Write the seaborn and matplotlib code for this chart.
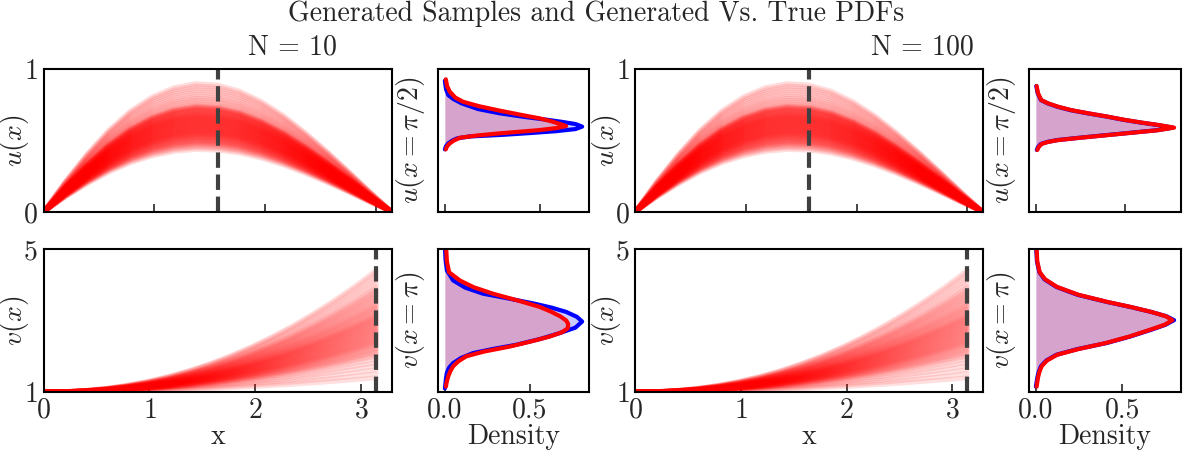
import numpy as np
import pandas as pd
import matplotlib
matplotlib.use("Agg")
import matplotlib.pyplot as plt
import seaborn as sns

# ---------------- data ----------------
x_grid = [0.0, 0.196, 0.393, 0.589, 0.785, 0.982, 1.178, 1.374, 1.571,
          1.767, 1.963, 2.160, 2.356, 2.553, 2.749, 2.945, 3.1416]
# typical sample shape of u(x) and of v(x) - 1
u_shape = [0.0, 0.144, 0.274, 0.387, 0.478, 0.545, 0.588, 0.607, 0.600,
           0.572, 0.523, 0.457, 0.377, 0.288, 0.193, 0.095, 0.0]
v_shape = [0.0, 0.0056, 0.0239, 0.0560, 0.1023, 0.1636, 0.2397, 0.3315, 0.4389,
           0.562, 0.701, 0.857, 1.028, 1.217, 1.421, 1.642, 1.882]

# per-sample amplitude of each generated curve
u_amp = [0.72, 0.74, 0.755, 0.77,
         0.780, 0.788, 0.796, 0.804, 0.812, 0.819, 0.826, 0.833, 0.840, 0.847,
         0.853, 0.859, 0.865, 0.871, 0.877, 0.883, 0.889, 0.894, 0.899, 0.904,
         0.909, 0.914, 0.919, 0.924, 0.929, 0.934, 0.939, 0.944, 0.949, 0.954,
         0.959, 0.964, 0.969, 0.974, 0.979, 0.984, 0.989, 0.994, 0.999, 1.004,
         1.009, 1.014, 1.019, 1.024, 1.029, 1.034, 1.039, 1.044, 1.049, 1.054,
         1.059, 1.064, 1.069, 1.074, 1.079, 1.084, 1.089, 1.094, 1.099, 1.104,
         1.109, 1.114, 1.119, 1.124, 1.129, 1.135, 1.141, 1.147, 1.153, 1.159,
         1.165, 1.171, 1.177, 1.183, 1.189, 1.195, 1.201, 1.207, 1.213, 1.220,
         1.235, 1.25, 1.27, 1.29, 1.31, 1.33, 1.355, 1.38, 1.405, 1.43, 1.455, 1.48]
v_amp = [0.21, 0.27, 0.33, 0.39, 0.44, 0.49,
         0.53, 0.555, 0.58, 0.60, 0.62, 0.64, 0.66, 0.68, 0.70, 0.715,
         0.73, 0.745, 0.76, 0.775, 0.79, 0.805, 0.82, 0.835, 0.85, 0.865,
         0.88, 0.895, 0.91, 0.925, 0.94, 0.955, 0.97, 0.985, 1.00, 1.015,
         1.03, 1.045, 1.06, 1.075, 1.09, 1.105, 1.12, 1.135, 1.15, 1.17,
         1.19, 1.21, 1.23, 1.25, 1.27, 1.29, 1.31, 1.335, 1.36, 1.385,
         1.41, 1.435, 1.46, 1.485, 1.51, 1.54,
         1.57, 1.62, 1.67, 1.72, 1.77, 1.81]

# density panels: u at x = pi/2
u_true_10_y = [0.438, 0.46, 0.48, 0.50, 0.515, 0.528, 0.540, 0.552, 0.565, 0.580, 0.597, 0.615,
               0.630, 0.645, 0.665, 0.690, 0.720, 0.760, 0.790, 0.818, 0.860, 0.918]
u_true_10_d = [0.0, 0.006, 0.018, 0.040, 0.065, 0.130, 0.310, 0.450, 0.585, 0.690, 0.725, 0.690,
               0.620, 0.540, 0.420, 0.290, 0.175, 0.088, 0.045, 0.018, 0.006, 0.0]
u_gen_10_y = [0.438, 0.46, 0.48, 0.50, 0.519, 0.535, 0.550, 0.562, 0.573, 0.587, 0.601, 0.615,
              0.635, 0.655, 0.680, 0.709, 0.740, 0.771, 0.800, 0.841, 0.880, 0.928]
u_gen_10_d = [0.005, 0.012, 0.026, 0.048, 0.079, 0.170, 0.289, 0.400, 0.500, 0.590, 0.640, 0.610,
              0.560, 0.500, 0.400, 0.289, 0.180, 0.096, 0.055, 0.026, 0.012, 0.005]
u_100_y = [0.434, 0.455, 0.476, 0.490, 0.503, 0.520, 0.538, 0.555, 0.572, 0.590, 0.607, 0.625,
           0.645, 0.667, 0.690, 0.712, 0.736, 0.760, 0.783, 0.830, 0.881]
u_true_100_d = [0.005, 0.012, 0.028, 0.065, 0.120, 0.250, 0.398, 0.540, 0.680, 0.768, 0.690, 0.590,
                0.490, 0.398, 0.290, 0.195, 0.120, 0.065, 0.028, 0.010, 0.002]
u_gen_100_d = [0.008, 0.016, 0.032, 0.068, 0.125, 0.255, 0.405, 0.545, 0.685, 0.775, 0.695, 0.595,
               0.495, 0.402, 0.295, 0.200, 0.125, 0.068, 0.030, 0.012, 0.004]

# density panels: v at x = pi
v_true_10_y = [1.10, 1.21, 1.40, 1.54, 1.68, 1.81, 1.95, 2.09, 2.20, 2.32, 2.48, 2.645, 2.80, 2.97,
               3.10, 3.24, 3.36, 3.48, 3.62, 3.75, 3.92, 4.12, 4.40, 4.70, 5.0]
v_true_10_d = [0.0, 0.003, 0.007, 0.012, 0.025, 0.049, 0.095, 0.167, 0.280, 0.420, 0.560, 0.676,
               0.770, 0.810, 0.780, 0.716, 0.630, 0.520, 0.370, 0.225, 0.120, 0.049, 0.012, 0.004, 0.001]
v_gen_10_y = [1.15, 1.30, 1.44, 1.58, 1.72, 1.86, 2.00, 2.13, 2.27, 2.41, 2.55, 2.67, 2.78, 2.90,
              3.00, 3.12, 3.25, 3.38, 3.56, 3.75, 3.93, 4.12, 4.35, 4.65, 5.0]
v_gen_10_d = [0.006, 0.012, 0.020, 0.032, 0.049, 0.080, 0.127, 0.230, 0.382, 0.505, 0.618, 0.690,
              0.725, 0.728, 0.716, 0.680, 0.625, 0.560, 0.430, 0.284, 0.170, 0.088, 0.025, 0.012, 0.008]
v_100_y = [1.15, 1.40, 1.56, 1.72, 1.88, 2.04, 2.20, 2.37, 2.55, 2.74, 2.88, 3.01, 3.12, 3.24,
           3.38, 3.52, 3.72, 3.94, 4.15, 4.35, 4.65, 5.0]
v_true_100_d = [0.000, 0.008, 0.016, 0.029, 0.060, 0.118, 0.240, 0.410, 0.545, 0.667, 0.750, 0.800,
                0.755, 0.667, 0.545, 0.410, 0.240, 0.118, 0.050, 0.020, 0.006, 0.002]
v_gen_100_d = [0.004, 0.012, 0.020, 0.033, 0.064, 0.122, 0.245, 0.405, 0.540, 0.660, 0.745, 0.790,
               0.752, 0.668, 0.548, 0.414, 0.246, 0.122, 0.054, 0.022, 0.008, 0.004]

titles = ["N = 10", "N = 100"]
suptitle = "Generated Samples and Generated Vs. True PDFs"

# ---------------- style ----------------
sns.set_theme(style="white")
FS = 20
plt.rcParams.update({
    "font.family": ["cmr10", "DejaVu Serif"],
    "mathtext.fontset": "cm",
    "axes.formatter.use_mathtext": True,
    "axes.unicode_minus": False,
    "xtick.direction": "in",
    "ytick.direction": "in",
    "xtick.major.size": 6,
    "ytick.major.size": 6,
    "xtick.major.width": 1.2,
    "ytick.major.width": 1.2,
    "xtick.major.pad": 4,
    "ytick.major.pad": 4,
    "xtick.bottom": True,
    "ytick.left": True,
    "axes.edgecolor": "black",
    "axes.linewidth": 1.5,
    "font.size": FS,
    "axes.labelsize": FS,
    "xtick.labelsize": FS,
    "ytick.labelsize": FS,
    "axes.titlesize": FS,
})

W, H = 1192, 454
fig = plt.figure(figsize=(W / 100, H / 100), dpi=100)


def box(x0, y0, x1, y1):
    return [x0 / W, 1 - y1 / H, (x1 - x0) / W, (y1 - y0) / H]


rows_y = [(69, 212), (249, 392)]
cols_main = [(43.5, 392), (635, 983)]
cols_den = [(438, 589), (1029, 1181)]
title_x = [292, 922]


def curves(shape, amps, offset):
    recs = []
    for i, a in enumerate(amps):
        for xv, s in zip(x_grid, shape):
            recs.append((i, xv, offset + a * s))
    return pd.DataFrame(recs, columns=["sample", "x", "y"])


main_sets = [(u_shape, u_amp, 0.0), (v_shape, v_amp, 1.0)]
line_alpha = [0.13, 0.12]
den_sets = [
    [((u_true_10_y, u_true_10_d), (u_gen_10_y, u_gen_10_d)),
     ((v_true_10_y, v_true_10_d), (v_gen_10_y, v_gen_10_d))],
    [((u_100_y, u_true_100_d), (u_100_y, u_gen_100_d)),
     ((v_100_y, v_true_100_d), (v_100_y, v_gen_100_d))],
]
ylims = [(0, 1), (1, 5)]
ylabels_main = [r"$u(x)$", r"$v(x)$"]
ylabels_den = [r"$u(x=\pi/2)$", r"$v(x=\pi)$"]
vlines = [np.pi / 2, np.pi]
xlims = [(0, np.pi), (0, 3.29)]

for c in range(2):
    for r in range(2):
        ax = fig.add_axes(box(cols_main[c][0], rows_y[r][0], cols_main[c][1], rows_y[r][1]))
        shape, amps, off = main_sets[r]
        df = curves(shape, amps, off)
        sns.lineplot(data=df, x="x", y="y", units="sample", estimator=None, sort=False,
                     color="red", alpha=line_alpha[r], lw=3.5, ax=ax, legend=False)
        ax.axvline(vlines[r], color="#404040", ls="--", lw=3)
        ax.set_xlim(*xlims[r])
        ax.set_ylim(*ylims[r])
        ax.set_yticks(list(ylims[r]))
        ax.set_xticks([0, 1, 2, 3])
        ax.set_ylabel(ylabels_main[r])
        ax.yaxis.set_label_coords(-0.035, 0.5)
        if r == 0:
            ax.set_xticklabels([])
            ax.set_xlabel("")
        else:
            ax.set_xlabel("x", labelpad=0)

        axd = fig.add_axes(box(cols_den[c][0], rows_y[r][0], cols_den[c][1], rows_y[r][1]))
        (ty, td), (gy, gd) = den_sets[c][r]
        axd.fill_betweenx(ty, 0, td, color="blue", alpha=0.2, lw=0)
        axd.fill_betweenx(gy, 0, gd, color="red", alpha=0.2, lw=0)
        sns.lineplot(x=td, y=ty, orient="y", sort=False, estimator=None,
                     color="blue", lw=3, ax=axd)
        sns.lineplot(x=gd, y=gy, orient="y", sort=False, estimator=None,
                     color="red", lw=3, ax=axd)
        axd.set_ylim(*ylims[r])
        axd.set_yticks([])
        axd.set_xticks([0, 0.5])
        axd.set_ylabel(ylabels_den[r])
        axd.yaxis.set_label_coords(-0.07, 0.5)
        if r == 0:
            axd.set_xticklabels([])
            axd.set_xlabel("")
        else:
            axd.set_xticklabels(["0.0", "0.5"])
            axd.set_xlabel("Density", labelpad=0)

    fig.text(title_x[c] / W, 1 - 47 / H, titles[c], ha="center", va="center", fontsize=FS)

fig.text(0.5, 1 - 14 / H, suptitle, ha="center", va="center", fontsize=FS)
fig.savefig("out.png", dpi=100)
